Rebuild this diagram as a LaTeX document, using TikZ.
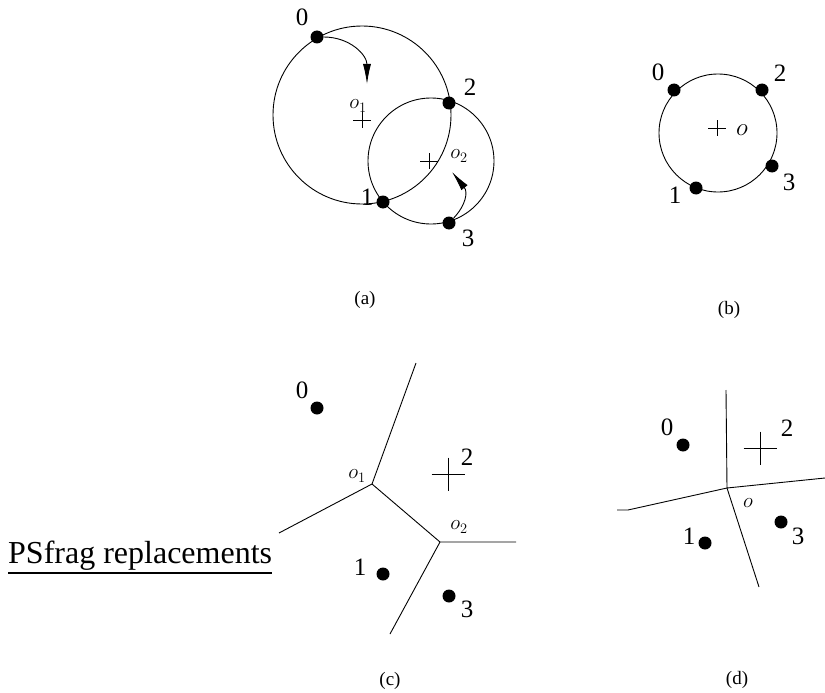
\documentclass[tikz,border=0pt]{standalone}
\usepackage{fontspec}
\setmainfont{Liberation Serif}
\usetikzlibrary{arrows.meta}

\begin{document}
\begin{tikzpicture}[
  x=1pt, y=-1pt,
  site/.style={circle, fill, inner sep=0pt, minimum size=13pt},
  num/.style={font=\fontsize{25}{25}\selectfont, inner sep=0pt},
  sublabel/.style={font=\fontsize{19}{19}\selectfont, inner sep=0pt},
  olab/.style={font=\fontsize{21}{21}\selectfont, inner sep=0pt},
  edge/.style={line width=0.9pt},
  turn/.style={line width=0.9pt, -{Latex[length=20pt,width=8pt]}}
]
  \useasboundingbox (0,0) rectangle (825,693);

  % (a) two circles
  \coordinate (oa1) at (362,115);
  \coordinate (oa2) at (431,161);
  \coordinate (xa1) at (362,120);
  \coordinate (xa2) at (429,161);
  \draw[edge] (oa1) circle[radius=89];
  \draw[edge] (oa2) circle[radius=63];
  \draw[edge] (xa1) +(-9,0) -- +(9,0) (xa1) +(0,-8) -- +(0,8);
  \draw[edge] (xa2) +(-9,0) -- +(9,0) (xa2) +(0,-8) -- +(0,8);
  \node[site] (a0) at (317,37) {};
  \node[site] (a1) at (383,202) {};
  \node[site] (a2) at (449,103) {};
  \node[site] (a3) at (449,223) {};
  \node[num] (la0) at (302,17) {0};
  \node[num] (la1) at (367,197) {1};
  \node[num] (la2) at (470,87) {2};
  \node[num] (la3) at (468,238) {3};
  \node[olab] (lo1) at (358,106) {$o_1$};
  \node[olab] (lo2) at (459,156) {$o_2$};
  \coordinate (ta0) at (367,84);
  \coordinate (ta3) at (452,172);
  \draw[turn] (a0) .. controls (350,37) and (367,55) .. (ta0);
  \draw[turn] (a3) .. controls (466,205) and (468,192) .. (ta3);
  \node[sublabel] (capa) at (365,300) {(a)};

  % (b) one circle
  \coordinate (ob) at (718,133);
  \draw[edge] (ob) circle[radius=59];
  \draw[edge] (717,128) +(-9,0) -- +(9,0) (717,128) +(0,-8) -- +(0,8);
  \node[site] (b0) at (674,90) {};
  \node[site] (b1) at (696,188) {};
  \node[site] (b2) at (762,90) {};
  \node[site] (b3) at (772,166) {};
  \node[num] (lb0) at (658,72) {0};
  \node[num] (lb1) at (675,195) {1};
  \node[num] (lb2) at (780,73) {2};
  \node[num] (lb3) at (789,182) {3};
  \node[font=\fontsize{24}{24}\selectfont, inner sep=0pt] (lob) at (742,130) {$o$};
  \node[sublabel] (capb) at (729,310) {(b)};

  % (c) diagram with two vertices
  \coordinate (vc1) at (372,484);
  \coordinate (vc2) at (440,542);
  \coordinate (ec1) at (416,363);
  \coordinate (ec2) at (279,533);
  \coordinate (ec3) at (516,542);
  \coordinate (ec4) at (390,634);
  \draw[edge] (ec1) -- (vc1) -- (ec2);
  \draw[edge] (vc1) -- (vc2);
  \draw[edge] (ec3) -- (vc2) -- (ec4);
  \draw[edge] (448,474) +(-16.5,0) -- +(16.5,0) (448,474) +(0,-16.5) -- +(0,16.5);
  \node[site] (c0) at (317,408) {};
  \node[site] (c1) at (383,574) {};
  \node[site] (c3) at (449,596) {};
  \node[num] (lc0) at (302,390) {0};
  \node[num] (lc1) at (360,567) {1};
  \node[num] (lc2) at (467,457) {2};
  \node[num] (lc3) at (467,609) {3};
  \node[olab] (lvc1) at (357,476) {$o_1$};
  \node[olab] (lvc2) at (459,527) {$o_2$};
  \node[sublabel] (capc) at (390,681) {(c)};

  % PSfrag leftover
  \node[font=\fontsize{32}{32}\selectfont, inner sep=0pt, anchor=base west] (ps) at (8,563) {PSfrag replacements};
  \draw[line width=2.6pt] ([yshift=-3pt]ps.south west) -- ([yshift=-3pt]ps.south east);

  % (d) diagram with one vertex
  \coordinate (vd) at (727,488);
  \coordinate (ed1) at (726,390);
  \coordinate (ed2) at (825,478);
  \coordinate (ed3) at (628,510);
  \coordinate (ed4) at (617,510);
  \coordinate (ed5) at (759,587);
  \draw[edge] (ed1) -- (vd) -- (ed2);
  \draw[edge] (vd) -- (ed3) -- (ed4);
  \draw[edge] (vd) -- (ed5);
  \draw[edge] (760,448) +(-16.5,0) -- +(16.5,0) (760,448) +(0,-16.5) -- +(0,16.5);
  \node[site] (d0) at (683,445) {};
  \node[site] (d1) at (705,543) {};
  \node[site] (d3) at (781,522) {};
  \node[num] (ld0) at (667,427) {0};
  \node[num] (ld1) at (689,536) {1};
  \node[num] (ld2) at (787,428) {2};
  \node[num] (ld3) at (798,536) {3};
  \node[olab] (lvd) at (748,503) {$o$};
  \node[sublabel] (capd) at (737,680) {(d)};
\end{tikzpicture}
\end{document}
